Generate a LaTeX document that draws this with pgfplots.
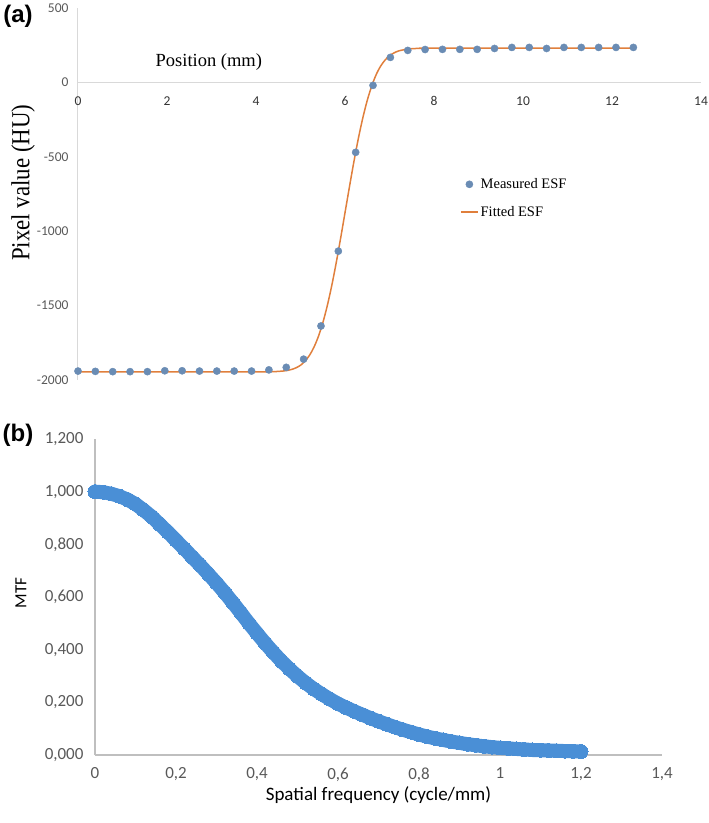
\documentclass[border=0pt]{standalone}
\usepackage{fontspec}
\usepackage{graphicx}
\setmainfont{Liberation Serif}
\newfontfamily\carlito{Carlito}
\newfontfamily\arialf{Liberation Sans}
\usepackage{pgfplots}
\pgfplotsset{compat=1.18}
\definecolor{esfline}{HTML}{E07F3C}
\definecolor{esfdot}{HTML}{6A8CB4}
\definecolor{mtfblue}{HTML}{4A8FD6}
\definecolor{axgrayA}{HTML}{D9D9D9}
\definecolor{axgrayB}{HTML}{BFBFBF}
\definecolor{tickgray}{HTML}{595959}
\begin{document}
\begin{tikzpicture}
\useasboundingbox (0,0) rectangle (709pt,823pt);
% ---------------- panel (a) ----------------
\begin{axis}[
  at={(78pt,443pt)}, anchor=south west,
  scale only axis, width=623pt, height=372pt,
  xmin=0, xmax=14, ymin=-2000, ymax=500,
  axis x line=bottom, axis y line=left,
  x axis line style={draw=none, -},
  y axis line style={draw=axgrayA, line width=1pt, -},
  major tick length=0pt,
  xtick={0,2,4,6,8,10,12,14},
  xticklabels={0,2,4,6,8,10,12,14},
  ytick={-2000,-1500,-1000,-500,0,500},
  yticklabels={-2000,-1500,-1000,-500,0,500},
  xticklabel style={font=\carlito\fontsize{13.5}{16}\selectfont, text=black!80, yshift=287pt},
  yticklabel style={font=\carlito\fontsize{13.5}{16}\selectfont, text=tickgray, xshift=-6pt},
  xlabel={Position (mm)},
  xlabel style={font=\fontsize{18.5}{21}\selectfont, at={(axis description cs:0.21,0.855)}, anchor=center},
  ylabel={\scalebox{0.88}[1]{Pixel value (HU)}},
  ylabel style={font=\fontsize{26}{29}\selectfont, at={(axis description cs:-0.088,0.53)}, anchor=center},
  clip=false,
  legend style={at={(axis description cs:0.613,0.489)}, anchor=west, draw=none, fill=none,
    inner sep=0pt, row sep=12pt, font=\fontsize{14.5}{17}\selectfont},
  legend cell align=left,
  reverse legend,
]
\draw[axgrayA, line width=1pt] (axis cs:0,0) -- (axis cs:14,0);
\addplot[esfline, line width=1.5pt, smooth] coordinates {
(0,-1945) (4.0,-1945) (4.2,-1945) (4.4,-1944) (4.6,-1940) (4.7,-1936) (4.8,-1929)
(4.9,-1918) (5.0,-1901) (5.1,-1874) (5.2,-1835) (5.3,-1781) (5.4,-1709) (5.5,-1617)
(5.6,-1503) (5.7,-1369) (5.8,-1216) (5.9,-1050) (6.0,-876) (6.1,-702) (6.2,-533)
(6.3,-377) (6.4,-239) (6.5,-121) (6.6,-25) (6.7,52) (6.8,109) (6.9,150) (7.0,179)
(7.1,198) (7.2,211) (7.3,218) (7.4,224) (7.6,228) (7.8,230) (8.0,230) (12.48,230)
};
\addlegendentry{Fitted ESF}
\addplot[only marks, mark=*, mark size=3.6pt, mark options={draw=esfdot, fill=esfdot}] coordinates {
(0.00,-1940) (0.39,-1942) (0.78,-1944) (1.17,-1944) (1.56,-1944) (1.95,-1938)
(2.34,-1938) (2.73,-1940) (3.12,-1940) (3.51,-1940) (3.90,-1940) (4.29,-1932)
(4.68,-1915) (5.07,-1860) (5.46,-1637) (5.85,-1134) (6.24,-470) (6.63,-20)
(7.02,168) (7.41,215) (7.80,221) (8.19,222) (8.58,222) (8.97,222) (9.36,228)
(9.75,235) (10.14,235) (10.53,228) (10.92,235) (11.31,235) (11.70,235)
(12.09,235) (12.48,235)
};
\addlegendentry{Measured ESF}
\node[font=\arialf\bfseries\fontsize{24}{28}\selectfont, anchor=center] at (axis description cs:-0.0963,0.978) {(a)};
\end{axis}
% ---------------- panel (b) ----------------
\begin{axis}[
  at={(95pt,68pt)}, anchor=south west,
  scale only axis, width=567pt, height=316pt,
  xmin=0, xmax=1.4, ymin=0, ymax=1.2,
  axis x line=bottom, axis y line=left,
  axis line style={draw=axgrayB, line width=1.2pt, -},
  major tick length=0pt,
  xtick={0,0.2,0.4,0.6,0.8,1,1.2,1.4},
  xticklabels={0,{0,2},{0,4},{0,6},{0,8},1,{1,2},{1,4}},
  ytick={0,0.2,0.4,0.6,0.8,1,1.2},
  yticklabels={{0,000},{0,200},{0,400},{0,600},{0,800},{1,000},{1,200}},
  xticklabel style={font=\carlito\fontsize{17}{20}\selectfont, text=tickgray, yshift=-9pt},
  yticklabel style={font=\carlito\fontsize{17}{20}\selectfont, text=tickgray, xshift=-8pt},
  xlabel={Spatial frequency (cycle/mm)},
  xlabel style={font=\carlito\fontsize{19}{22}\selectfont, at={(axis description cs:0.5,-0.1266)}, anchor=center},
  ylabel={MTF},
  ylabel style={font=\carlito\fontsize{17}{20}\selectfont, at={(axis description cs:-0.1305,0.513)}, anchor=center},
  clip=false,
]
\addplot[mtfblue, line width=14pt, line join=round, line cap=round, mark=*, mark size=7pt, mark options={draw=none, fill=mtfblue, line width=0pt}] coordinates {
(0.00,1.000) (0.02,0.998) (0.04,0.992) (0.06,0.983) (0.08,0.970) (0.10,0.953)
(0.12,0.930) (0.14,0.905) (0.16,0.876) (0.18,0.846) (0.20,0.815) (0.22,0.784)
(0.24,0.752) (0.26,0.720) (0.28,0.687) (0.30,0.653) (0.32,0.617) (0.34,0.579)
(0.36,0.540) (0.38,0.500) (0.40,0.462) (0.42,0.425) (0.44,0.390) (0.46,0.357)
(0.48,0.327) (0.50,0.299) (0.52,0.274) (0.54,0.251) (0.56,0.231) (0.58,0.212)
(0.60,0.195) (0.62,0.180) (0.64,0.166) (0.66,0.153) (0.68,0.140) (0.70,0.128)
(0.72,0.117) (0.74,0.106) (0.76,0.096) (0.78,0.087) (0.80,0.078) (0.82,0.070)
(0.84,0.063) (0.86,0.057) (0.88,0.051) (0.90,0.046) (0.92,0.041) (0.94,0.037)
(0.96,0.033) (0.98,0.030) (1.00,0.027) (1.02,0.025) (1.04,0.023) (1.06,0.021)
(1.08,0.019) (1.10,0.018) (1.12,0.017) (1.14,0.016) (1.16,0.015) (1.18,0.014)
(1.20,0.013)
};
\node[font=\arialf\bfseries\fontsize{24}{28}\selectfont, anchor=center] at (axis description cs:-0.1358,1.0127) {(b)};
\end{axis}
\end{tikzpicture}
\end{document}
